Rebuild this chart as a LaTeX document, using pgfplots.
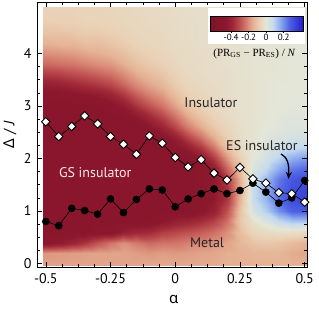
\documentclass[border=0pt]{standalone}
\usepackage{pgfplots}
\pgfplotsset{compat=1.18}
\usepackage{fontspec}
\setmainfont{PT Sans}
\newfontfamily\gr{Noto Sans}
\newfontfamily\tms{Liberation Serif}
\usetikzlibrary{arrows.meta}
\pgfplotsset{colormap={gsmap}{rgb255(0pt)=(128,18,38); rgb255(19pt)=(140,24,46); rgb255(26pt)=(160,40,55); rgb255(34pt)=(190,80,80); rgb255(42pt)=(215,130,115); rgb255(49pt)=(229,178,148); rgb255(56pt)=(234,208,180); rgb255(64pt)=(228,230,215); rgb255(72pt)=(195,218,238); rgb255(80pt)=(140,170,238); rgb255(90pt)=(80,100,228); rgb255(106pt)=(30,30,200)}}
\begin{document}
\begin{tikzpicture}
\path[use as bounding box] (-37pt,-42.5pt) rectangle (282pt,267.5pt);
\begin{axis}[
  scale only axis, width=270pt, height=265.5pt,
  xmin=-0.534, xmax=0.509, ymin=-0.076, ymax=4.98,
  enlargelimits=false, axis on top,
  xtick={-0.5,-0.25,0,0.25,0.5}, xticklabels={-0.5,-0.25,0,0.25,0.5},
  ytick={0,1,2,3,4}, yticklabels={0,1,2,3,4},
  minor x tick num=3, minor y tick num=3,
  tick align=inside, major tick length=5pt, minor tick length=3pt,
  every tick/.style={black, line width=0.6pt},
  axis line style={line width=0.8pt},
  ticklabel style={font=\fontsize{14}{16}\selectfont},
  xticklabel style={yshift=-3pt},
  yticklabel style={xshift=-2pt},
  xlabel={{\gr α}}, ylabel={{\gr Δ} / \textit{J}},
  xlabel style={font=\fontsize{15}{17}\selectfont, at={(axis description cs:0.507,-0.122)}, anchor=center},
  ylabel style={font=\fontsize{15}{17}\selectfont, at={(axis description cs:-0.1,0.5)}, anchor=center},
  colormap name=gsmap, point meta min=-0.64, point meta max=0.42,
  colorbar horizontal,
  colorbar shift/.style={},
  colorbar style={
    at={(173pt,251.5pt)}, anchor=north west,
    scale only axis, width=93pt, height=15pt,
    xtick={-0.4,-0.2,0,0.2}, xticklabels={-0.4,-0.2,0,0.2},
    xticklabel style={font=\fontsize{9}{10}\selectfont, inner sep=1pt},
    tick align=outside, major tick length=2pt, xtick pos=left,
    axis line style={line width=0.6pt},
  },
]
\addplot[surf, shader=interp, mesh/cols=21, mesh/rows=25, point meta=explicit] table[row sep=\\, meta=c] {
x y c\\
-0.51 -0.04 -0.17\\ -0.45 -0.04 -0.17\\ -0.40 -0.04 -0.17\\ -0.35 -0.04 -0.17\\ -0.30 -0.04 -0.17\\ -0.25 -0.04 -0.17\\ -0.20 -0.04 -0.17\\ -0.15 -0.04 -0.17\\ -0.10 -0.04 -0.16\\ -0.05 -0.04 -0.16\\ 0.00 -0.04 -0.16\\ 0.05 -0.04 -0.16\\ 0.10 -0.04 -0.16\\ 0.15 -0.04 -0.16\\ 0.20 -0.04 -0.15\\ 0.25 -0.04 -0.15\\ 0.30 -0.04 -0.15\\ 0.35 -0.04 -0.15\\ 0.40 -0.04 -0.15\\ 0.45 -0.04 -0.15\\ 0.51 -0.04 -0.15\\
-0.51 0.2 -0.19\\ -0.45 0.2 -0.185\\ -0.40 0.2 -0.18\\ -0.35 0.2 -0.175\\ -0.30 0.2 -0.17\\ -0.25 0.2 -0.17\\ -0.20 0.2 -0.17\\ -0.15 0.2 -0.18\\ -0.10 0.2 -0.19\\ -0.05 0.2 -0.18\\ 0.00 0.2 -0.185\\ 0.05 0.2 -0.18\\ 0.10 0.2 -0.17\\ 0.15 0.2 -0.165\\ 0.20 0.2 -0.155\\ 0.25 0.2 -0.15\\ 0.30 0.2 -0.14\\ 0.35 0.2 -0.14\\ 0.40 0.2 -0.14\\ 0.45 0.2 -0.16\\ 0.51 0.2 -0.17\\
-0.51 0.4 -0.47\\ -0.45 0.4 -0.44\\ -0.40 0.4 -0.40\\ -0.35 0.4 -0.35\\ -0.30 0.4 -0.29\\ -0.25 0.4 -0.24\\ -0.20 0.4 -0.20\\ -0.15 0.4 -0.23\\ -0.10 0.4 -0.26\\ -0.05 0.4 -0.24\\ 0.00 0.4 -0.24\\ 0.05 0.4 -0.22\\ 0.10 0.4 -0.21\\ 0.15 0.4 -0.19\\ 0.20 0.4 -0.17\\ 0.25 0.4 -0.14\\ 0.30 0.4 -0.11\\ 0.35 0.4 -0.10\\ 0.40 0.4 -0.11\\ 0.45 0.4 -0.13\\ 0.51 0.4 -0.15\\
-0.51 0.6 -0.5\\ -0.45 0.6 -0.5\\ -0.40 0.6 -0.5\\ -0.35 0.6 -0.5\\ -0.30 0.6 -0.48\\ -0.25 0.6 -0.48\\ -0.20 0.6 -0.42\\ -0.15 0.6 -0.39\\ -0.10 0.6 -0.38\\ -0.05 0.6 -0.34\\ 0.00 0.6 -0.32\\ 0.05 0.6 -0.30\\ 0.10 0.6 -0.28\\ 0.15 0.6 -0.25\\ 0.20 0.6 -0.20\\ 0.25 0.6 -0.12\\ 0.30 0.6 -0.06\\ 0.35 0.6 -0.04\\ 0.40 0.6 -0.03\\ 0.45 0.6 -0.03\\ 0.51 0.6 -0.05\\
-0.51 0.8 -0.5\\ -0.45 0.8 -0.5\\ -0.40 0.8 -0.5\\ -0.35 0.8 -0.5\\ -0.30 0.8 -0.5\\ -0.25 0.8 -0.5\\ -0.20 0.8 -0.5\\ -0.15 0.8 -0.5\\ -0.10 0.8 -0.5\\ -0.05 0.8 -0.46\\ 0.00 0.8 -0.42\\ 0.05 0.8 -0.40\\ 0.10 0.8 -0.37\\ 0.15 0.8 -0.33\\ 0.20 0.8 -0.25\\ 0.25 0.8 -0.10\\ 0.30 0.8 -0.02\\ 0.35 0.8 0.03\\ 0.40 0.8 0.08\\ 0.45 0.8 0.12\\ 0.51 0.8 0.12\\
-0.51 1.0 -0.5\\ -0.45 1.0 -0.5\\ -0.40 1.0 -0.5\\ -0.35 1.0 -0.5\\ -0.30 1.0 -0.5\\ -0.25 1.0 -0.5\\ -0.20 1.0 -0.5\\ -0.15 1.0 -0.5\\ -0.10 1.0 -0.5\\ -0.05 1.0 -0.5\\ 0.00 1.0 -0.5\\ 0.05 1.0 -0.5\\ 0.10 1.0 -0.46\\ 0.15 1.0 -0.41\\ 0.20 1.0 -0.30\\ 0.25 1.0 -0.11\\ 0.30 1.0 0.04\\ 0.35 1.0 0.10\\ 0.40 1.0 0.20\\ 0.45 1.0 0.27\\ 0.51 1.0 0.28\\
-0.51 1.2 -0.5\\ -0.45 1.2 -0.5\\ -0.40 1.2 -0.5\\ -0.35 1.2 -0.5\\ -0.30 1.2 -0.5\\ -0.25 1.2 -0.5\\ -0.20 1.2 -0.5\\ -0.15 1.2 -0.5\\ -0.10 1.2 -0.5\\ -0.05 1.2 -0.5\\ 0.00 1.2 -0.5\\ 0.05 1.2 -0.5\\ 0.10 1.2 -0.48\\ 0.15 1.2 -0.44\\ 0.20 1.2 -0.35\\ 0.25 1.2 -0.14\\ 0.30 1.2 0.07\\ 0.35 1.2 0.14\\ 0.40 1.2 0.25\\ 0.45 1.2 0.31\\ 0.51 1.2 0.33\\
-0.51 1.4 -0.5\\ -0.45 1.4 -0.5\\ -0.40 1.4 -0.5\\ -0.35 1.4 -0.5\\ -0.30 1.4 -0.5\\ -0.25 1.4 -0.5\\ -0.20 1.4 -0.5\\ -0.15 1.4 -0.5\\ -0.10 1.4 -0.5\\ -0.05 1.4 -0.5\\ 0.00 1.4 -0.5\\ 0.05 1.4 -0.5\\ 0.10 1.4 -0.48\\ 0.15 1.4 -0.44\\ 0.20 1.4 -0.36\\ 0.25 1.4 -0.16\\ 0.30 1.4 0.07\\ 0.35 1.4 0.15\\ 0.40 1.4 0.25\\ 0.45 1.4 0.31\\ 0.51 1.4 0.33\\
-0.51 1.6 -0.5\\ -0.45 1.6 -0.5\\ -0.40 1.6 -0.5\\ -0.35 1.6 -0.5\\ -0.30 1.6 -0.5\\ -0.25 1.6 -0.5\\ -0.20 1.6 -0.5\\ -0.15 1.6 -0.5\\ -0.10 1.6 -0.5\\ -0.05 1.6 -0.5\\ 0.00 1.6 -0.5\\ 0.05 1.6 -0.5\\ 0.10 1.6 -0.48\\ 0.15 1.6 -0.44\\ 0.20 1.6 -0.34\\ 0.25 1.6 -0.15\\ 0.30 1.6 0.05\\ 0.35 1.6 0.13\\ 0.40 1.6 0.23\\ 0.45 1.6 0.29\\ 0.51 1.6 0.31\\
-0.51 1.8 -0.5\\ -0.45 1.8 -0.5\\ -0.40 1.8 -0.5\\ -0.35 1.8 -0.5\\ -0.30 1.8 -0.5\\ -0.25 1.8 -0.5\\ -0.20 1.8 -0.5\\ -0.15 1.8 -0.5\\ -0.10 1.8 -0.5\\ -0.05 1.8 -0.5\\ 0.00 1.8 -0.5\\ 0.05 1.8 -0.5\\ 0.10 1.8 -0.48\\ 0.15 1.8 -0.43\\ 0.20 1.8 -0.27\\ 0.25 1.8 -0.12\\ 0.30 1.8 0.02\\ 0.35 1.8 0.08\\ 0.40 1.8 0.16\\ 0.45 1.8 0.23\\ 0.51 1.8 0.26\\
-0.51 2.0 -0.5\\ -0.45 2.0 -0.5\\ -0.40 2.0 -0.5\\ -0.35 2.0 -0.5\\ -0.30 2.0 -0.5\\ -0.25 2.0 -0.5\\ -0.20 2.0 -0.5\\ -0.15 2.0 -0.5\\ -0.10 2.0 -0.5\\ -0.05 2.0 -0.5\\ 0.00 2.0 -0.5\\ 0.05 2.0 -0.5\\ 0.10 2.0 -0.44\\ 0.15 2.0 -0.34\\ 0.20 2.0 -0.19\\ 0.25 2.0 -0.08\\ 0.30 2.0 0.0\\ 0.35 2.0 0.04\\ 0.40 2.0 0.09\\ 0.45 2.0 0.15\\ 0.51 2.0 0.18\\
-0.51 2.2 -0.5\\ -0.45 2.2 -0.5\\ -0.40 2.2 -0.5\\ -0.35 2.2 -0.5\\ -0.30 2.2 -0.5\\ -0.25 2.2 -0.5\\ -0.20 2.2 -0.5\\ -0.15 2.2 -0.5\\ -0.10 2.2 -0.5\\ -0.05 2.2 -0.5\\ 0.00 2.2 -0.48\\ 0.05 2.2 -0.42\\ 0.10 2.2 -0.35\\ 0.15 2.2 -0.24\\ 0.20 2.2 -0.12\\ 0.25 2.2 -0.05\\ 0.30 2.2 -0.01\\ 0.35 2.2 0.02\\ 0.40 2.2 0.05\\ 0.45 2.2 0.07\\ 0.51 2.2 0.09\\
-0.51 2.4 -0.5\\ -0.45 2.4 -0.5\\ -0.40 2.4 -0.5\\ -0.35 2.4 -0.5\\ -0.30 2.4 -0.5\\ -0.25 2.4 -0.5\\ -0.20 2.4 -0.5\\ -0.15 2.4 -0.5\\ -0.10 2.4 -0.5\\ -0.05 2.4 -0.47\\ 0.00 2.4 -0.41\\ 0.05 2.4 -0.32\\ 0.10 2.4 -0.24\\ 0.15 2.4 -0.15\\ 0.20 2.4 -0.08\\ 0.25 2.4 -0.035\\ 0.30 2.4 -0.015\\ 0.35 2.4 0.01\\ 0.40 2.4 0.025\\ 0.45 2.4 0.035\\ 0.51 2.4 0.04\\
-0.51 2.6 -0.5\\ -0.45 2.6 -0.5\\ -0.40 2.6 -0.5\\ -0.35 2.6 -0.5\\ -0.30 2.6 -0.5\\ -0.25 2.6 -0.5\\ -0.20 2.6 -0.5\\ -0.15 2.6 -0.5\\ -0.10 2.6 -0.455\\ -0.05 2.6 -0.40\\ 0.00 2.6 -0.32\\ 0.05 2.6 -0.225\\ 0.10 2.6 -0.16\\ 0.15 2.6 -0.10\\ 0.20 2.6 -0.06\\ 0.25 2.6 -0.03\\ 0.30 2.6 -0.015\\ 0.35 2.6 0.0\\ 0.40 2.6 0.01\\ 0.45 2.6 0.02\\ 0.51 2.6 0.02\\
-0.51 2.8 -0.5\\ -0.45 2.8 -0.5\\ -0.40 2.8 -0.5\\ -0.35 2.8 -0.5\\ -0.30 2.8 -0.5\\ -0.25 2.8 -0.5\\ -0.20 2.8 -0.49\\ -0.15 2.8 -0.44\\ -0.10 2.8 -0.38\\ -0.05 2.8 -0.32\\ 0.00 2.8 -0.24\\ 0.05 2.8 -0.16\\ 0.10 2.8 -0.105\\ 0.15 2.8 -0.07\\ 0.20 2.8 -0.045\\ 0.25 2.8 -0.025\\ 0.30 2.8 -0.015\\ 0.35 2.8 -0.005\\ 0.40 2.8 0.005\\ 0.45 2.8 0.01\\ 0.51 2.8 0.01\\
-0.51 3.0 -0.5\\ -0.45 3.0 -0.5\\ -0.40 3.0 -0.5\\ -0.35 3.0 -0.5\\ -0.30 3.0 -0.49\\ -0.25 3.0 -0.47\\ -0.20 3.0 -0.43\\ -0.15 3.0 -0.36\\ -0.10 3.0 -0.30\\ -0.05 3.0 -0.245\\ 0.00 3.0 -0.175\\ 0.05 3.0 -0.11\\ 0.10 3.0 -0.075\\ 0.15 3.0 -0.05\\ 0.20 3.0 -0.04\\ 0.25 3.0 -0.02\\ 0.30 3.0 -0.015\\ 0.35 3.0 -0.005\\ 0.40 3.0 0.0\\ 0.45 3.0 0.005\\ 0.51 3.0 0.005\\
-0.51 3.2 -0.48\\ -0.45 3.2 -0.48\\ -0.40 3.2 -0.46\\ -0.35 3.2 -0.45\\ -0.30 3.2 -0.43\\ -0.25 3.2 -0.40\\ -0.20 3.2 -0.35\\ -0.15 3.2 -0.28\\ -0.10 3.2 -0.225\\ -0.05 3.2 -0.185\\ 0.00 3.2 -0.125\\ 0.05 3.2 -0.08\\ 0.10 3.2 -0.06\\ 0.15 3.2 -0.045\\ 0.20 3.2 -0.035\\ 0.25 3.2 -0.02\\ 0.30 3.2 -0.015\\ 0.35 3.2 -0.005\\ 0.40 3.2 0.0\\ 0.45 3.2 0.0\\ 0.51 3.2 0.0\\
-0.51 3.4 -0.42\\ -0.45 3.4 -0.41\\ -0.40 3.4 -0.39\\ -0.35 3.4 -0.37\\ -0.30 3.4 -0.35\\ -0.25 3.4 -0.32\\ -0.20 3.4 -0.27\\ -0.15 3.4 -0.21\\ -0.10 3.4 -0.17\\ -0.05 3.4 -0.14\\ 0.00 3.4 -0.09\\ 0.05 3.4 -0.06\\ 0.10 3.4 -0.05\\ 0.15 3.4 -0.04\\ 0.20 3.4 -0.03\\ 0.25 3.4 -0.02\\ 0.30 3.4 -0.015\\ 0.35 3.4 -0.005\\ 0.40 3.4 0.0\\ 0.45 3.4 0.0\\ 0.51 3.4 0.0\\
-0.51 3.6 -0.34\\ -0.45 3.6 -0.33\\ -0.40 3.6 -0.31\\ -0.35 3.6 -0.29\\ -0.30 3.6 -0.27\\ -0.25 3.6 -0.245\\ -0.20 3.6 -0.205\\ -0.15 3.6 -0.16\\ -0.10 3.6 -0.13\\ -0.05 3.6 -0.105\\ 0.00 3.6 -0.07\\ 0.05 3.6 -0.05\\ 0.10 3.6 -0.04\\ 0.15 3.6 -0.035\\ 0.20 3.6 -0.03\\ 0.25 3.6 -0.02\\ 0.30 3.6 -0.01\\ 0.35 3.6 -0.005\\ 0.40 3.6 -0.005\\ 0.45 3.6 0.0\\ 0.51 3.6 0.0\\
-0.51 3.8 -0.26\\ -0.45 3.8 -0.25\\ -0.40 3.8 -0.24\\ -0.35 3.8 -0.22\\ -0.30 3.8 -0.20\\ -0.25 3.8 -0.185\\ -0.20 3.8 -0.155\\ -0.15 3.8 -0.12\\ -0.10 3.8 -0.095\\ -0.05 3.8 -0.08\\ 0.00 3.8 -0.055\\ 0.05 3.8 -0.045\\ 0.10 3.8 -0.04\\ 0.15 3.8 -0.03\\ 0.20 3.8 -0.025\\ 0.25 3.8 -0.02\\ 0.30 3.8 -0.01\\ 0.35 3.8 -0.01\\ 0.40 3.8 -0.005\\ 0.45 3.8 0.0\\ 0.51 3.8 0.0\\
-0.51 4.0 -0.20\\ -0.45 4.0 -0.19\\ -0.40 4.0 -0.18\\ -0.35 4.0 -0.165\\ -0.30 4.0 -0.155\\ -0.25 4.0 -0.14\\ -0.20 4.0 -0.12\\ -0.15 4.0 -0.09\\ -0.10 4.0 -0.075\\ -0.05 4.0 -0.065\\ 0.00 4.0 -0.05\\ 0.05 4.0 -0.04\\ 0.10 4.0 -0.035\\ 0.15 4.0 -0.03\\ 0.20 4.0 -0.025\\ 0.25 4.0 -0.02\\ 0.30 4.0 -0.01\\ 0.35 4.0 -0.01\\ 0.40 4.0 -0.005\\ 0.45 4.0 0.0\\ 0.51 4.0 0.0\\
-0.51 4.2 -0.15\\ -0.45 4.2 -0.14\\ -0.40 4.2 -0.14\\ -0.35 4.2 -0.12\\ -0.30 4.2 -0.12\\ -0.25 4.2 -0.105\\ -0.20 4.2 -0.09\\ -0.15 4.2 -0.07\\ -0.10 4.2 -0.06\\ -0.05 4.2 -0.055\\ 0.00 4.2 -0.045\\ 0.05 4.2 -0.04\\ 0.10 4.2 -0.03\\ 0.15 4.2 -0.025\\ 0.20 4.2 -0.02\\ 0.25 4.2 -0.02\\ 0.30 4.2 -0.01\\ 0.35 4.2 -0.01\\ 0.40 4.2 -0.01\\ 0.45 4.2 0.0\\ 0.51 4.2 0.0\\
-0.51 4.4 -0.11\\ -0.45 4.4 -0.11\\ -0.40 4.4 -0.10\\ -0.35 4.4 -0.09\\ -0.30 4.4 -0.09\\ -0.25 4.4 -0.08\\ -0.20 4.4 -0.07\\ -0.15 4.4 -0.06\\ -0.10 4.4 -0.055\\ -0.05 4.4 -0.05\\ 0.00 4.4 -0.04\\ 0.05 4.4 -0.035\\ 0.10 4.4 -0.03\\ 0.15 4.4 -0.025\\ 0.20 4.4 -0.02\\ 0.25 4.4 -0.02\\ 0.30 4.4 -0.01\\ 0.35 4.4 -0.01\\ 0.40 4.4 -0.01\\ 0.45 4.4 0.0\\ 0.51 4.4 0.0\\
-0.51 4.6 -0.085\\ -0.45 4.6 -0.08\\ -0.40 4.6 -0.08\\ -0.35 4.6 -0.07\\ -0.30 4.6 -0.07\\ -0.25 4.6 -0.065\\ -0.20 4.6 -0.06\\ -0.15 4.6 -0.055\\ -0.10 4.6 -0.05\\ -0.05 4.6 -0.045\\ 0.00 4.6 -0.04\\ 0.05 4.6 -0.035\\ 0.10 4.6 -0.03\\ 0.15 4.6 -0.025\\ 0.20 4.6 -0.02\\ 0.25 4.6 -0.02\\ 0.30 4.6 -0.01\\ 0.35 4.6 -0.01\\ 0.40 4.6 -0.01\\ 0.45 4.6 0.0\\ 0.51 4.6 0.0\\
-0.51 4.89 -0.07\\ -0.45 4.89 -0.07\\ -0.40 4.89 -0.07\\ -0.35 4.89 -0.065\\ -0.30 4.89 -0.065\\ -0.25 4.89 -0.06\\ -0.20 4.89 -0.055\\ -0.15 4.89 -0.05\\ -0.10 4.89 -0.045\\ -0.05 4.89 -0.04\\ 0.00 4.89 -0.035\\ 0.05 4.89 -0.03\\ 0.10 4.89 -0.03\\ 0.15 4.89 -0.025\\ 0.20 4.89 -0.02\\ 0.25 4.89 -0.02\\ 0.30 4.89 -0.01\\ 0.35 4.89 -0.01\\ 0.40 4.89 -0.01\\ 0.45 4.89 0.0\\ 0.51 4.89 0.0\\
};
\addplot[black, line width=0.6pt, mark=*, mark size=3.6pt, mark options={fill=black, line width=0.4pt}] coordinates {
(-0.5,0.80) (-0.45,0.72) (-0.4,1.05) (-0.35,1.01) (-0.3,0.94) (-0.25,1.23) (-0.2,0.97) (-0.15,1.22) (-0.1,1.42) (-0.05,1.40) (0,1.08) (0.05,1.23) (0.1,1.33) (0.15,1.42) (0.2,1.33) (0.25,1.39) (0.3,1.53) (0.35,1.36) (0.4,1.15) (0.45,1.25) (0.5,1.58)};
\addplot[black, line width=0.6pt, mark=square*, mark size=3pt, mark options={fill=white, rotate=45, line width=0.9pt}] coordinates {
(-0.5,2.70) (-0.45,2.42) (-0.4,2.61) (-0.35,2.81) (-0.3,2.66) (-0.25,2.42) (-0.2,2.27) (-0.15,2.08) (-0.1,2.43) (-0.05,2.29) (0,2.02) (0.05,1.84) (0.1,1.98) (0.15,1.72) (0.2,1.59) (0.25,1.83) (0.3,1.61) (0.35,1.53) (0.4,1.35) (0.45,1.33) (0.5,1.17)};
\fill[white] (axis cs:0.1265,4.181) rectangle (axis cs:0.501,4.867);
\node[font=\tms\fontsize{11}{12}\selectfont, inner sep=1pt] at (axis cs:0.306,4.0) {(PR\textsubscript{GS} − PR\textsubscript{ES}) / \textit{N}};
\node[font=\fontsize{14}{16}\selectfont, text=black!85] at (axis cs:0.138,3.06) {Insulator};
\node[font=\fontsize{14}{16}\selectfont, text=white!92!red] at (axis cs:-0.309,1.74) {GS insulator};
\node[font=\fontsize{14}{16}\selectfont, text=black!85] at (axis cs:0.335,2.24) {ES insulator};
\node[font=\fontsize{14}{16}\selectfont, text=black!85] at (axis cs:0.123,0.39) {Metal};
\draw[line width=1.3pt, -{Stealth[length=7pt,width=6pt]}] (axis cs:0.4085,2.086) .. controls (axis cs:0.432,2.03) and (axis cs:0.441,1.9) .. (axis cs:0.4375,1.61);
\end{axis}
\end{tikzpicture}
\end{document}
